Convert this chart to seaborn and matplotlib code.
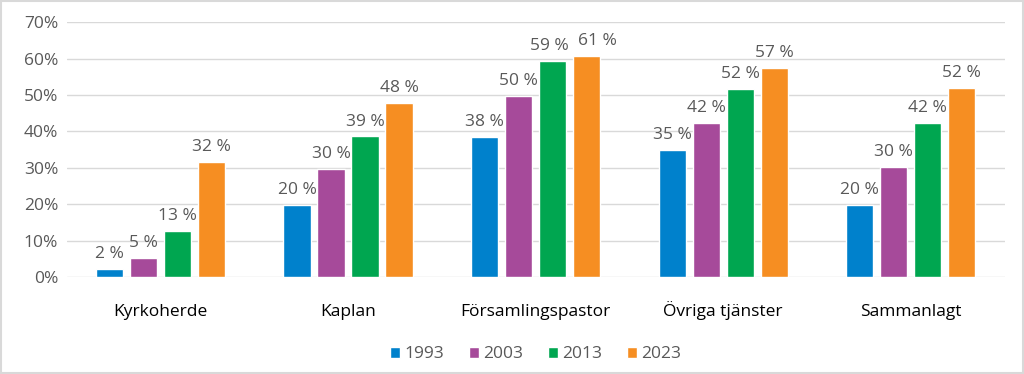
import pandas as pd
import matplotlib
matplotlib.use("Agg")
import matplotlib.pyplot as plt
import seaborn as sns

# Andel kvinnor per tjänstetyp (procent)
categories = ["Kyrkoherde", "Kaplan", "Församlingspastor", "Övriga tjänster", "Sammanlagt"]
years = ["1993", "2003", "2013", "2023"]
values_1993 = [2.2, 19.9, 38.4, 34.8, 19.7]
values_2003 = [5.2, 29.7, 49.6, 42.2, 30.3]
values_2013 = [12.6, 38.6, 59.2, 51.7, 42.3]
values_2023 = [31.6, 47.9, 60.6, 57.3, 51.9]
colors = ["#0081CC", "#A64A9A", "#00A650", "#F68E22"]

rows = []
for year, vals in zip(years, [values_1993, values_2003, values_2013, values_2023]):
    for cat, v in zip(categories, vals):
        rows.append({"Tjänst": cat, "År": year, "Andel": v})
df = pd.DataFrame(rows)

sns.set_style("white")
plt.rcParams["font.family"] = ["Open Sans", "DejaVu Sans"]

fig = plt.figure(figsize=(10.24, 3.74), dpi=100)
ax = fig.add_axes([0.065, 0.259, 0.916, 0.682])

sns.barplot(data=df, x="Tjänst", y="Andel", hue="År", order=categories,
            hue_order=years, palette=colors, width=0.725, gap=0.2,
            saturation=1, ax=ax, legend=True)

labels = []
for container in ax.containers:
    labels.append(ax.bar_label(container,
                               labels=[f"{round(b.get_height())} %" for b in container],
                               padding=5, fontsize=12.5, color="#595959"))

# 59 % och 61 % krockar över Församlingspastor -> flytta isär som i Excel
labels[2][2].xyann = (-2, 5)
labels[3][2].xyann = (8, 5)

ax.set_ylim(0, 70)
ax.set_yticks(range(0, 71, 10))
ax.set_yticklabels([f"{t}%" for t in range(0, 71, 10)], fontsize=12.5, color="#595959")
ax.set_xlim(-0.5, len(categories) - 0.5)
ax.tick_params(axis="x", labelsize=12.5, colors="black", length=0, pad=28)
ax.tick_params(axis="y", length=0, pad=6)
for lbl in ax.get_xticklabels():
    lbl.set_verticalalignment("baseline")
ax.set_xlabel("")
ax.set_ylabel("")
ax.yaxis.grid(True, color="#D9D9D9", linewidth=1)
ax.set_axisbelow(True)
for s in ax.spines.values():
    s.set_visible(False)

ax.legend(loc="upper center", bbox_to_anchor=(0.5, -0.21), ncol=4, frameon=False,
          fontsize=12.5, labelcolor="#595959", handlelength=0.6, handleheight=0.6,
          handletextpad=0.25, columnspacing=1.4)

# tunn grå ram runt hela figuren
fig.patches.append(plt.Rectangle((0.001, 0.002), 0.998, 0.996, transform=fig.transFigure,
                                 fill=False, edgecolor="#D9D9D9", linewidth=1.5))

fig.savefig("out.png", dpi=100)
